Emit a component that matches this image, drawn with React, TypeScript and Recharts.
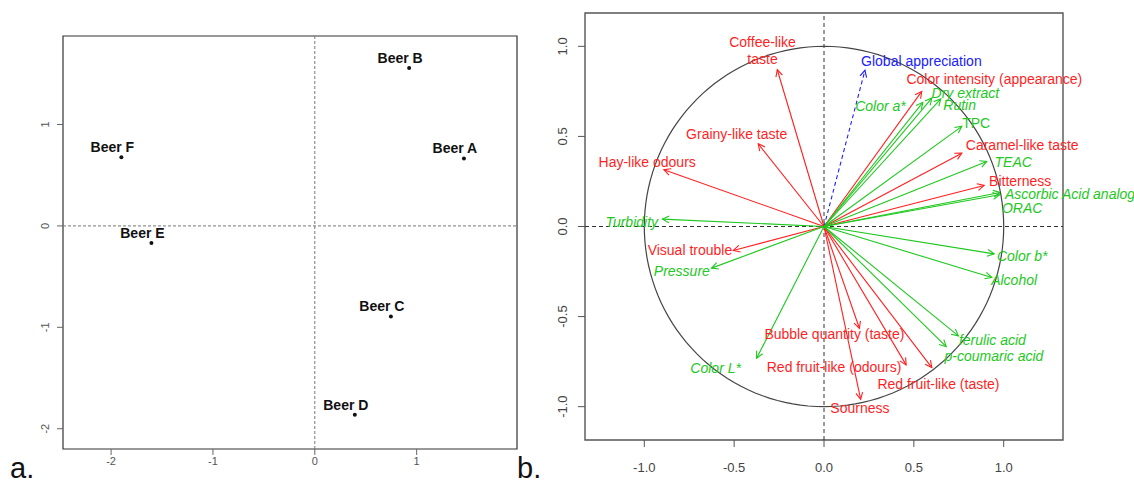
import React from 'react';
import {
  ScatterChart,
  Scatter,
  XAxis,
  YAxis,
  ReferenceLine,
  ReferenceArea,
  ReferenceDot,
} from 'recharts';

// ---------- Panel a: individuals map ----------
const beerNames = ['Beer A', 'Beer B', 'Beer C', 'Beer D', 'Beer E', 'Beer F'];
const beerDim1 = [1.464, 0.926, 0.747, 0.393, -1.604, -1.899];
const beerDim2 = [0.665, 1.557, -0.894, -1.862, -0.168, 0.678];
const beerTicks = [-2, -1, 0, 1];
const beerXDomain: [number, number] = [-2.472, 1.985];
const beerYDomain: [number, number] = [-2.2, 1.873];

// ---------- Panel b: correlation circle ----------
const varNames = [
  'Coffee-like\ntaste',
  'Grainy-like taste',
  'Hay-like odours',
  'Visual trouble',
  'Bubble quantity (taste)',
  'Red fruit-like (odours)',
  'Sourness',
  'Red fruit-like (taste)',
  'Color intensity (appearance)',
  'Caramel-like taste',
  'Bitterness',
  'Global appreciation',
  'Turbidity',
  'Pressure',
  'Color L*',
  'Color a*',
  'Dry extract',
  'Rutin',
  'TPC',
  'TEAC',
  'Ascorbic Acid analog',
  'ORAC',
  'Color b*',
  'Alcohol',
  'ferulic acid',
  'p-coumaric acid',
];
const varX = [
  -0.26, -0.366, -0.891, -0.505, 0.197, 0.457, 0.204, 0.6, 0.544, 0.767, 0.891,
  0.228,
  -0.899, -0.626, -0.375, 0.55, 0.6, 0.65, 0.767, 0.906, 0.98, 0.977, 0.947, 0.934, 0.748, 0.68,
];
const varY = [
  0.87, 0.459, 0.315, -0.133, -0.565, -0.768, -0.959, -0.783, 0.75, 0.407, 0.228,
  0.867,
  0.041, -0.231, -0.731, 0.689, 0.713, 0.708, 0.556, 0.361, 0.189, 0.176, -0.152, -0.283, -0.607, -0.667,
];
const labelX = [
  -0.342, -0.486, -0.984, -0.746, 0.058, 0.056, 0.2, 0.637, 0.948, 1.103, 1.092,
  0.542,
  -1.07, -0.791, -0.603, 0.314, 0.787, 0.755, 0.847, 1.053, 1.369, 1.103, 1.103, 1.058, 0.937, 0.946,
];
const labelY = [
  0.974, 0.515, 0.358, -0.129, -0.598, -0.783, -1.009, -0.874, 0.82, 0.45, 0.25,
  0.917,
  0.022, -0.25, -0.787, 0.67, 0.741, 0.676, 0.574, 0.358, 0.182, 0.102, -0.167, -0.3, -0.63, -0.717,
];
const varGroup = [
  'sensory', 'sensory', 'sensory', 'sensory', 'sensory', 'sensory', 'sensory', 'sensory', 'sensory', 'sensory', 'sensory',
  'global',
  'chemical', 'chemical', 'chemical', 'chemical', 'chemical', 'chemical', 'chemical', 'chemical', 'chemical', 'chemical',
  'chemical', 'chemical', 'chemical', 'chemical',
];
const circleTicks = [-1, -0.5, 0, 0.5, 1];
const circleXDomain: [number, number] = [-1.33, 1.33];
const circleYDomain: [number, number] = [-1.185, 1.185];

// unit circle guide (geometric reference, radius 1)
const circleAngles = Array.from({ length: 145 }, (_, i) => i * 2.5);
const unitCircle = circleAngles.map((a) => ({
  x: Math.cos((a * Math.PI) / 180),
  y: Math.sin((a * Math.PI) / 180),
}));

const beers = beerNames.map((name, i) => ({ name, x: beerDim1[i], y: beerDim2[i] }));
const vars = varNames.map((name, i) => ({
  name,
  x: varX[i],
  y: varY[i],
  lx: labelX[i],
  ly: labelY[i],
  group: varGroup[i],
}));

// ---------- styles ----------
const FONT = '"Liberation Sans", Arial, Helvetica, sans-serif';
const COLORS: Record<string, string> = {
  sensory: '#ff1f1f',
  chemical: '#1ec81e',
  global: '#2020ff',
};
const UPRIGHT = new Set(['TPC']);

const XTick = (fs: number, color: string, fmt: (v: number) => string) => (p: any) => (
  <text
    x={p.x}
    y={p.y}
    dy="0.71em"
    textAnchor="middle"
    fontFamily={FONT}
    fontSize={fs}
    fill={color}
  >
    {fmt(p.payload.value)}
  </text>
);

const YTick = (fs: number, color: string, fmt: (v: number) => string) => (p: any) => (
  <text
    x={p.x}
    y={p.y}
    transform={`rotate(-90 ${p.x} ${p.y})`}
    textAnchor="middle"
    fontFamily={FONT}
    fontSize={fs}
    fill={color}
  >
    {fmt(p.payload.value)}
  </text>
);

const BeerPoint = (p: any) => {
  if (p.cx == null || p.cy == null) return <g />;
  return (
    <g>
      <circle cx={p.cx} cy={p.cy} r={2} fill="#111" />
      <text
        x={p.cx - 9}
        y={p.cy - 10}
        dy="0.35em"
        textAnchor="middle"
        fontFamily={FONT}
        fontWeight="bold"
        fontSize={14}
        fill="#111"
      >
        {p.payload.name}
      </text>
    </g>
  );
};

const makeArrow = (color: string, dashed: boolean) => (p: any) => {
  const { x1, y1, x2, y2 } = p;
  if ([x1, y1, x2, y2].some((v) => v == null || isNaN(v))) return <g />;
  const ang = Math.atan2(y2 - y1, x2 - x1);
  const L = 7.5;
  const a = (27 * Math.PI) / 180;
  const hx1 = x2 - L * Math.cos(ang - a);
  const hy1 = y2 - L * Math.sin(ang - a);
  const hx2 = x2 - L * Math.cos(ang + a);
  const hy2 = y2 - L * Math.sin(ang + a);
  return (
    <g>
      <line
        x1={x1}
        y1={y1}
        x2={x2}
        y2={y2}
        stroke={color}
        strokeWidth={1.1}
        strokeDasharray={dashed ? '4 3' : undefined}
      />
      <polyline
        points={`${hx1},${hy1} ${x2},${y2} ${hx2},${hy2}`}
        fill="none"
        stroke={color}
        strokeWidth={1.1}
      />
    </g>
  );
};

const makeLabel = (name: string, group: string) => (p: any) => {
  if (p.cx == null || p.cy == null) return <g />;
  const lines = name.split('\n');
  const italic = group === 'chemical' && !UPRIGHT.has(name);
  const lh = 17;
  return (
    <text
      x={p.cx}
      y={p.cy - ((lines.length - 1) * lh) / 2}
      textAnchor="middle"
      fontFamily={FONT}
      fontSize={14}
      fontStyle={italic ? 'italic' : 'normal'}
      fill={COLORS[group]}
    >
      {lines.map((ln, i) => (
        <tspan key={i} x={p.cx} dy={i === 0 ? '0.35em' : lh}>
          {ln}
        </tspan>
      ))}
    </text>
  );
};

const noShape = () => <g />;

export default function App() {
  return (
    <div
      style={{
        position: 'absolute',
        left: 0,
        top: 0,
        width: 1134,
        height: 484,
        background: '#fff',
        overflow: 'hidden',
      }}
    >
      {/* Panel a */}
      <div style={{ position: 'absolute', left: 0, top: 0 }}>
        <ScatterChart width={540} height={484} margin={{ top: 36, right: 23, bottom: 0, left: 0 }}>
          <XAxis
            type="number"
            dataKey="x"
            domain={beerXDomain}
            ticks={beerTicks}
            interval={0}
            axisLine={false}
            tickSize={6}
            tickLine={{ stroke: '#666' }}
            height={35}
            tick={XTick(11, '#555', (v) => String(v))}
          />
          <YAxis
            type="number"
            dataKey="y"
            domain={beerYDomain}
            ticks={beerTicks}
            interval={0}
            axisLine={false}
            tickSize={6}
            tickMargin={8}
            tickLine={{ stroke: '#666' }}
            width={63}
            tick={YTick(11, '#555', (v) => String(v))}
          />
          <ReferenceLine x={0} stroke="#777" strokeDasharray="3 2" />
          <ReferenceLine y={0} stroke="#777" strokeDasharray="3 2" />
          <Scatter data={beers} shape={BeerPoint} isAnimationActive={false} />
          <ReferenceArea
            x1={beerXDomain[0]}
            x2={beerXDomain[1]}
            y1={beerYDomain[0]}
            y2={beerYDomain[1]}
            fill="none"
            fillOpacity={0}
            stroke="#333"
            strokeWidth={1.2}
          />
        </ScatterChart>
      </div>

      {/* Panel b */}
      <div style={{ position: 'absolute', left: 540, top: 0 }}>
        <ScatterChart width={594} height={484} margin={{ top: 13, right: 71, bottom: 0, left: 0 }}>
          <XAxis
            type="number"
            dataKey="x"
            domain={circleXDomain}
            ticks={circleTicks}
            interval={0}
            axisLine={false}
            tickSize={7}
            tickMargin={15.6}
            tickLine={{ stroke: '#555' }}
            height={44}
            tick={XTick(13, '#444', (v) => v.toFixed(1))}
          />
          <YAxis
            type="number"
            dataKey="y"
            domain={circleYDomain}
            ticks={circleTicks}
            interval={0}
            axisLine={false}
            tickSize={7}
            tickMargin={11}
            tickLine={{ stroke: '#555' }}
            width={45}
            tick={YTick(13, '#444', (v) => v.toFixed(1))}
          />
          <ReferenceLine x={0} stroke="#333" strokeDasharray="4 3" />
          <ReferenceLine y={0} stroke="#333" strokeDasharray="4 3" />
          <Scatter
            data={unitCircle}
            line={{ stroke: '#444', strokeWidth: 1.2 }}
            lineType="joint"
            shape={noShape}
            isAnimationActive={false}
          />
          {vars.map((v, i) => (
            <ReferenceLine
              key={`arrow-${i}`}
              segment={[
                { x: 0, y: 0 },
                { x: v.x, y: v.y },
              ]}
              ifOverflow="visible"
              shape={makeArrow(COLORS[v.group], v.group === 'global')}
            />
          ))}
          {vars.map((v, i) => (
            <ReferenceDot
              key={`label-${i}`}
              x={v.lx}
              y={v.ly}
              r={0}
              ifOverflow="visible"
              shape={makeLabel(v.name, v.group)}
            />
          ))}
          <ReferenceArea
            x1={circleXDomain[0]}
            x2={circleXDomain[1]}
            y1={circleYDomain[0]}
            y2={circleYDomain[1]}
            fill="none"
            fillOpacity={0}
            stroke="#555"
            strokeWidth={1.4}
          />
        </ScatterChart>
      </div>

      {/* panel letters */}
      <svg
        width={1134}
        height={484}
        style={{ position: 'absolute', left: 0, top: 0, pointerEvents: 'none' }}
      >
        <text x={10} y={478} fontFamily={FONT} fontSize={29} fill="#111">
          a.
        </text>
        <text x={517} y={478} fontFamily={FONT} fontSize={29} fill="#111">
          b.
        </text>
      </svg>
    </div>
  );
}
